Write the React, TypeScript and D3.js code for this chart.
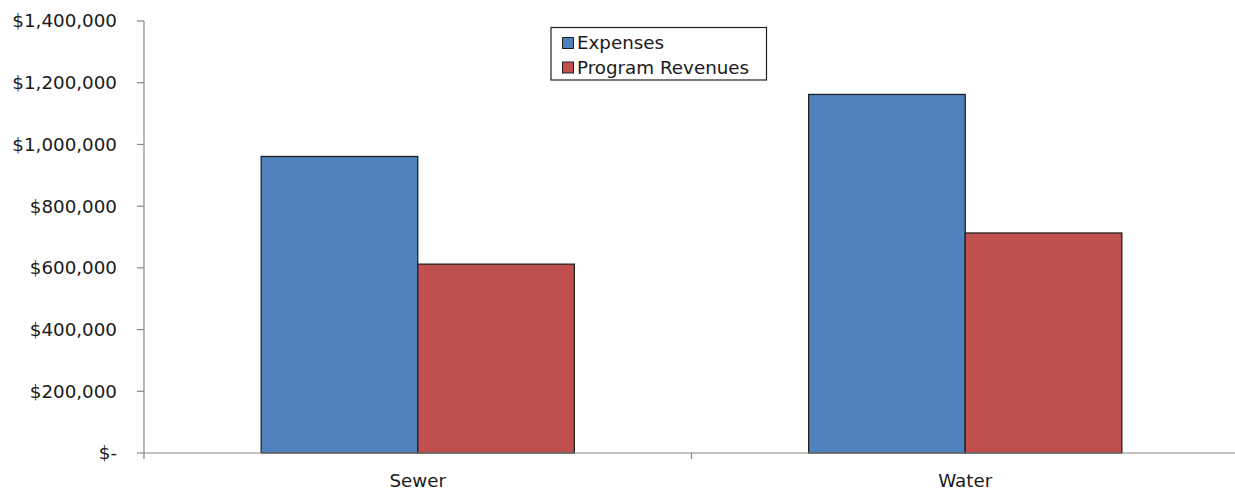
import React from "react";
import * as d3 from "d3";

const categories = ["Sewer", "Water"];
const seriesNames = ["Expenses", "Program Revenues"];
const expenses = [961000, 1162000];
const programRevenues = [612000, 713000];
const seriesColors = ["#4F81BD", "#C0504D"];
const yTicks = [0, 200000, 400000, 600000, 800000, 1000000, 1200000, 1400000];

const W = 1235;
const H = 493;
const FONT = "'DejaVu Sans', Verdana, sans-serif";
const FS = 18.3;

const fmt = (v: number) => (v === 0 ? "$-" : "$" + d3.format(",")(v));

export default function App() {
  const left = 144;
  const right = 1239;
  const top = 21;
  const bottom = 453;

  const x = d3.scaleBand<string>().domain(categories).range([left, right]);
  const y = d3.scaleLinear().domain([0, 1400000]).range([bottom, top]);
  const groupW = x.bandwidth() * 0.572;
  const inner = d3
    .scaleBand<string>()
    .domain(seriesNames)
    .range([0, groupW]);
  const values = [expenses, programRevenues];

  return (
    <svg
      width={W}
      height={H}
      style={{ position: "absolute", left: 0, top: 0, background: "#fff" }}
      fontFamily={FONT}
    >
      {/* bars */}
      {categories.map((c, ci) =>
        seriesNames.map((s, si) => {
          const x0 = (x(c) as number) + (x.bandwidth() - groupW) / 2 + (inner(s) as number);
          const v = values[si][ci];
          return (
            <rect
              key={c + s}
              x={x0}
              y={y(v)}
              width={inner.bandwidth()}
              height={bottom - y(v)}
              fill={seriesColors[si]}
              stroke="#222"
              strokeWidth={1.3}
            />
          );
        })
      )}

      {/* y axis */}
      <line x1={left} x2={left} y1={top} y2={bottom} stroke="#868686" strokeWidth={1.2} />
      {yTicks.map((t) => (
        <g key={t}>
          <line x1={left - 7} x2={left} y1={y(t)} y2={y(t)} stroke="#868686" strokeWidth={1.2} />
          <text
            x={117}
            y={y(t)}
            dy="0.35em"
            textAnchor="end"
            fontSize={FS}
            fill="#1a1a1a"
          >
            {fmt(t)}
          </text>
        </g>
      ))}

      {/* x axis */}
      <line x1={left} x2={right} y1={bottom} y2={bottom} stroke="#868686" strokeWidth={1.2} />
      {[left, (x(categories[1]) as number), right].map((tx, i) => (
        <line key={i} x1={tx} x2={tx} y1={bottom} y2={bottom + 6} stroke="#868686" strokeWidth={1.2} />
      ))}
      {categories.map((c) => (
        <text
          key={c}
          x={(x(c) as number) + x.bandwidth() / 2}
          y={481}
          dy="0.35em"
          textAnchor="middle"
          fontSize={FS}
          fill="#1a1a1a"
        >
          {c}
        </text>
      ))}

      {/* legend */}
      <rect x={551} y={27.5} width={215.5} height={52.5} fill="#fff" stroke="#222" strokeWidth={1.2} />
      {seriesNames.map((s, i) => (
        <g key={s}>
          <rect
            x={562.5}
            y={37.5 + i * 24.5}
            width={11}
            height={11}
            fill={seriesColors[i]}
            stroke="#222"
            strokeWidth={1}
          />
          <text x={577} y={43 + i * 24.5} dy="0.35em" fontSize={FS} fill="#1a1a1a">
            {s}
          </text>
        </g>
      ))}
    </svg>
  );
}
